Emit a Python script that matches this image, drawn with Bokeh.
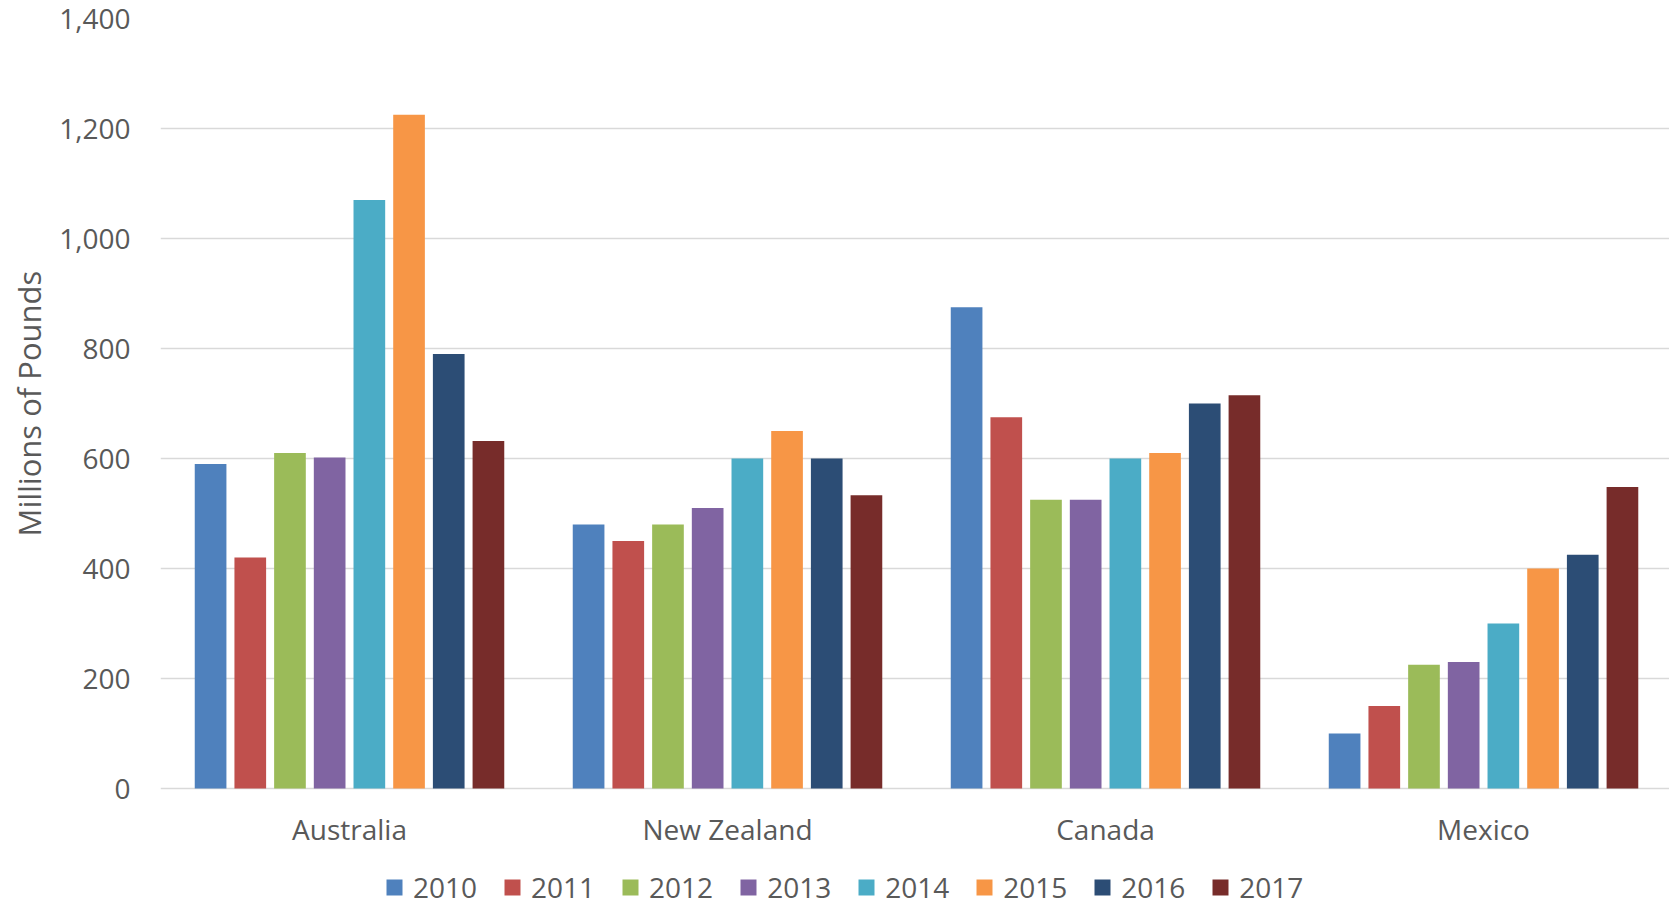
from bokeh.plotting import figure
from bokeh.models import (ColumnDataSource, Range1d, FixedTicker, NumeralTickFormatter,
                          Legend, LegendItem, Title)
from bokeh.core.properties import value
from bokeh.embed import file_html
from bokeh.resources import INLINE

# ---- data ----
countries = ["Australia", "New Zealand", "Canada", "Mexico"]
years = ["2010", "2011", "2012", "2013", "2014", "2015", "2016", "2017"]
s2010 = [590, 480, 875, 100]
s2011 = [420, 450, 675, 150]
s2012 = [610, 480, 525, 225]
s2013 = [602, 510, 525, 230]
s2014 = [1070, 600, 600, 300]
s2015 = [1225, 650, 610, 400]
s2016 = [790, 600, 700, 425]
s2017 = [632, 533, 715, 548]
series = [s2010, s2011, s2012, s2013, s2014, s2015, s2016, s2017]
colors = ["#4F81BD", "#C0504D", "#9BBB59", "#8064A2",
          "#4BACC6", "#F79646", "#2C4D75", "#772C2A"]
y_ticks = [0, 200, 400, 600, 800, 1000, 1200, 1400]
y_title = "Millions of Pounds"

FONT = "Open Sans"
TXT = "#595959"
GRID = "#D9D9D9"

# frame spans below zero so that category labels and legend sit inside it
p = figure(width=1669, height=906, output_backend="svg", toolbar_location=None,
           x_range=Range1d(0, 3.992), y_range=Range1d(-214.5, 1400),
           min_border_left=160, min_border_right=0, min_border_top=18,
           min_border_bottom=0)
p.outline_line_color = None
p.background_fill_color = "white"
p.border_fill_color = "white"
p.xaxis.visible = False

pitch = 0.1050
bar_w = 0.0838
items = []
for j, (yr, vals, col) in enumerate(zip(years, series, colors)):
    xs = [i + 0.5 + (j - 3.5) * pitch for i in range(len(countries))]
    src = ColumnDataSource(dict(x=xs, top=vals, country=countries))
    r = p.vbar(x="x", top="top", bottom=0, width=bar_w, source=src,
               fill_color=col, line_color=None)
    items.append(LegendItem(label=yr, renderers=[r]))

# category labels under the zero line
cat_src = ColumnDataSource(dict(x=[i + 0.5 for i in range(len(countries))],
                                y=[0] * len(countries), label=countries))
p.text(x="x", y="y", text="label", source=cat_src, y_offset=40,
       text_align="center", text_baseline="middle",
       text_font=value(FONT), text_font_size="28px", text_color=TXT)

p.yaxis.ticker = FixedTicker(ticks=y_ticks)
p.yaxis.formatter = NumeralTickFormatter(format="0,0")
p.yaxis.major_tick_line_color = None
p.yaxis.minor_tick_line_color = None
p.yaxis.axis_line_color = None
p.yaxis.major_label_text_font = FONT
p.yaxis.major_label_text_font_size = "28px"
p.yaxis.major_label_text_color = TXT
p.yaxis.major_label_standoff = 24

# y-axis title, aligned with the 0..1400 part of the frame
p.add_layout(Title(text=y_title, align="left", offset=370, vertical_align="middle",
                   text_font=FONT, text_font_size="31px", text_font_style="normal",
                   text_color=TXT, standoff=11), "left")

p.xgrid.grid_line_color = None
p.ygrid.grid_line_color = GRID
p.ygrid.grid_line_width = 1.5

legend = Legend(items=items, orientation="horizontal", location=(224, 0),
                glyph_width=20, glyph_height=20, label_standoff=9, spacing=25,
                padding=0, margin=0, border_line_color=None,
                background_fill_alpha=0,
                label_text_font=FONT, label_text_font_size="28px",
                label_text_color=TXT)
p.add_layout(legend)

open("out.html", "w").write(file_html(p, INLINE))
